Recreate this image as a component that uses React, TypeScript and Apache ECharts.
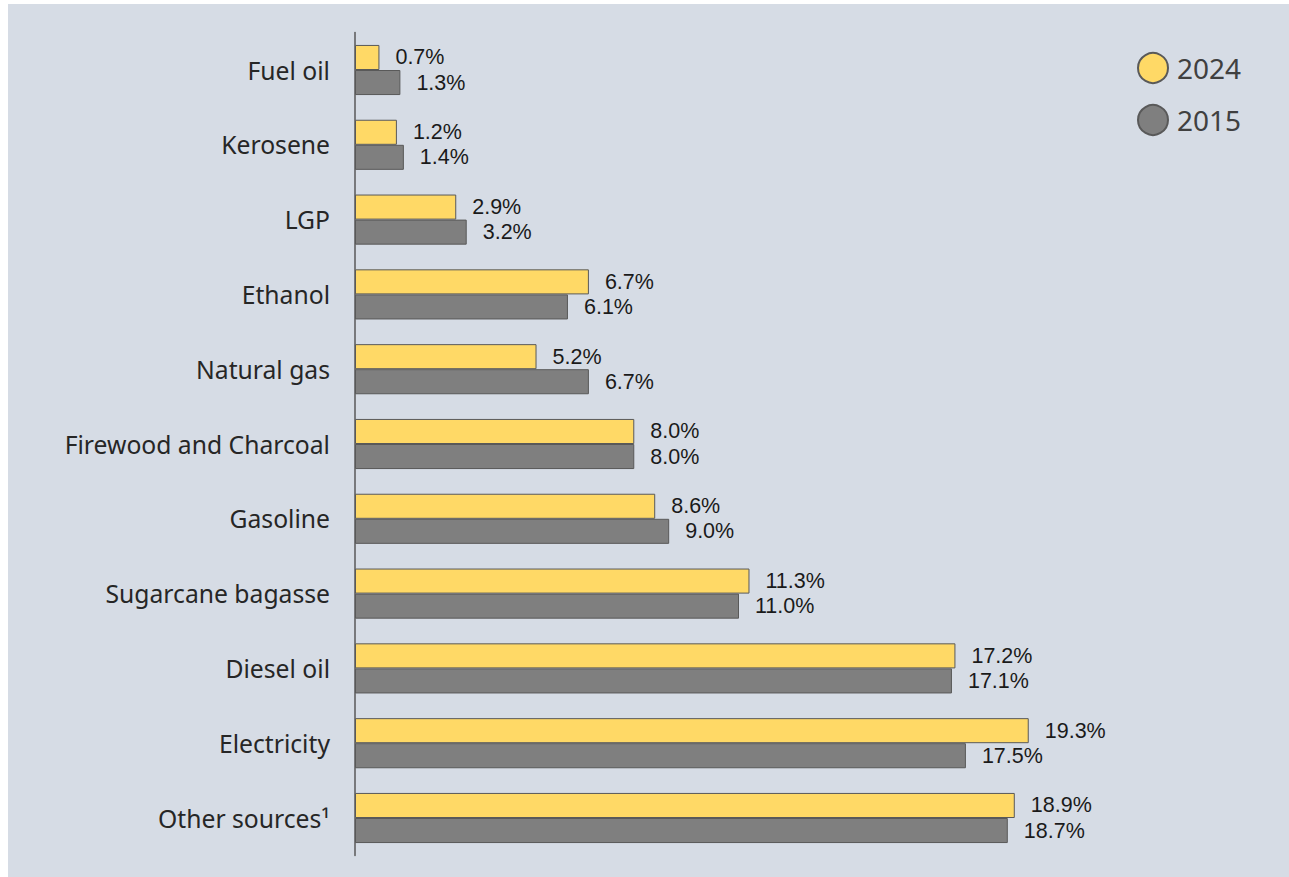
import React, { useEffect, useRef } from "react";
import * as echarts from "echarts";

const categories = [
  "Fuel oil",
  "Kerosene",
  "LGP",
  "Ethanol",
  "Natural gas",
  "Firewood and Charcoal",
  "Gasoline",
  "Sugarcane bagasse",
  "Diesel oil",
  "Electricity",
  "Other sources¹",
];
const values2024 = [0.7, 1.2, 2.9, 6.7, 5.2, 8.0, 8.6, 11.3, 17.2, 19.3, 18.9];
const values2015 = [1.3, 1.4, 3.2, 6.1, 6.7, 8.0, 9.0, 11.0, 17.1, 17.5, 18.7];
const seriesNames = ["2024", "2015"];

const FONT = "Noto Sans";
const LABEL_FONT = "Liberation Sans";

export default function App() {
  const ref = useRef<HTMLDivElement>(null);
  useEffect(() => {
    if (!ref.current) return;
    const chart = echarts.init(ref.current, undefined, { renderer: "svg" });
    const label = {
      show: true,
      position: "right",
      distance: 16,
      fontFamily: LABEL_FONT,
      fontSize: 21.5,
      lineHeight: 23,
      color: "#1a1a1a",
      formatter: (p: any) => Number(p.value).toFixed(1) + "%",
    };
    chart.setOption({
      animation: false,
      backgroundColor: "#d6dce5",
      textStyle: { fontFamily: FONT },
      grid: { left: 347, top: 28.6, width: 768, height: 822.8, containLabel: false },
      legend: {
        orient: "vertical",
        left: 1124,
        top: 43,
        itemWidth: 30,
        itemHeight: 30,
        itemGap: 20,
        icon: "circle",
        textStyle: {
          fontFamily: FONT,
          fontSize: 28,
          lineHeight: 30,
          color: "#404040",
          padding: [0, 0, 0, 4],
        },
        data: seriesNames,
      },
      xAxis: {
        type: "value",
        min: 0,
        max: 22,
        show: false,
      },
      yAxis: {
        type: "category",
        inverse: true,
        data: categories,
        axisLine: { show: true, lineStyle: { color: "#595959", width: 1.5 } },
        axisTick: { show: false },
        axisLabel: { fontFamily: FONT, fontSize: 24.7, color: "#262626", margin: 25 },
      },
      series: [
        {
          name: seriesNames[0],
          type: "bar",
          data: values2024,
          barGap: "0%",
          barCategoryGap: "33%",
          itemStyle: { color: "#ffd966", borderColor: "#595959", borderWidth: 1 },
          label,
        },
        {
          name: seriesNames[1],
          type: "bar",
          data: values2015,
          barGap: "0%",
          barCategoryGap: "33%",
          itemStyle: { color: "#7f7f7f", borderColor: "#595959", borderWidth: 1 },
          label,
        },
      ],
    });
    return () => chart.dispose();
  }, []);
  return (
    <div
      ref={ref}
      style={{ position: "absolute", left: 8, top: 4, width: 1281, height: 873 }}
    />
  );
}
